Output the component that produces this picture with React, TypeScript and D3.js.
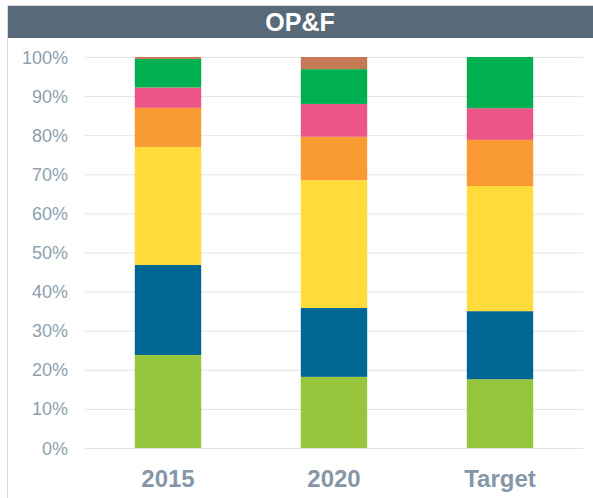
import { useEffect, useRef } from 'react';
import * as d3 from 'd3';

const categories = ['2015', '2020', 'Target'];
const segmentKeys = ['s1', 's2', 's3', 's4', 's5', 's6', 's7'];
const segmentColors = ['#97c53c', '#006794', '#ffdc3c', '#f99a33', '#ec5687', '#00b050', '#c57a55'];

// percentage shares, bottom segment first
const values2015 = [23.8, 23.0, 30.2, 10.0, 5.2, 7.3, 0.5];
const values2020 = [18.2, 17.6, 32.7, 11.1, 8.4, 8.9, 3.1];
const valuesTarget = [17.6, 17.4, 32.0, 11.8, 8.1, 13.1, 0];

const yTicks = [0, 10, 20, 30, 40, 50, 60, 70, 80, 90, 100];
const title = 'OP&F';

export default function App() {
  const svgRef = useRef<SVGSVGElement>(null);
  const width = 593;
  const height = 498;

  useEffect(() => {
    if (!svgRef.current) return;
    const svg = d3.select(svgRef.current);
    svg.selectAll('*').remove();

    const margin = { top: 57, right: 10, bottom: 50, left: 85 };
    const plotBottom = 448;

    // frame
    svg.append('rect')
      .attr('x', 7.5).attr('y', 5.5)
      .attr('width', width - 7).attr('height', height)
      .attr('fill', '#fff')
      .attr('stroke', '#d9d9d9');

    // title bar
    svg.append('rect')
      .attr('x', 8).attr('y', 6)
      .attr('width', width - 8).attr('height', 32)
      .attr('fill', '#586a7a');
    svg.append('text')
      .attr('x', 300).attr('y', 31)
      .attr('text-anchor', 'middle')
      .attr('font-family', 'Liberation Sans, Arial, sans-serif')
      .attr('font-weight', 'bold')
      .attr('font-size', 25)
      .attr('fill', '#fff')
      .text(title);

    const x = d3.scaleBand<string>()
      .domain(categories)
      .range([margin.left, 583])
      .paddingInner(0.6)
      .paddingOuter(0.3);

    const y = d3.scaleLinear()
      .domain([0, 100])
      .range([plotBottom, margin.top]);

    // gridlines
    svg.append('g')
      .selectAll('line')
      .data(yTicks)
      .enter()
      .append('line')
      .attr('x1', margin.left).attr('x2', 583)
      .attr('y1', d => y(d) + 0.5).attr('y2', d => y(d) + 0.5)
      .attr('stroke', '#e4e4e4')
      .attr('stroke-width', 1);

    svg.append('g')
      .selectAll('text')
      .data(yTicks)
      .enter()
      .append('text')
      .attr('x', 68)
      .attr('y', d => y(d) + 6.5)
      .attr('text-anchor', 'end')
      .attr('font-family', 'Liberation Sans, Arial, sans-serif')
      .attr('font-size', 18)
      .attr('fill', '#8d9fb0')
      .text(d => `${d}%`);

    const rows = categories.map((c, i) => {
      const vals = [values2015, values2020, valuesTarget][i];
      const row: Record<string, any> = { category: c };
      segmentKeys.forEach((k, j) => { row[k] = vals[j]; });
      return row;
    });

    const stack = d3.stack<any>().keys(segmentKeys);
    const series = stack(rows);

    svg.append('g')
      .selectAll('g')
      .data(series)
      .enter()
      .append('g')
      .attr('fill', (_, i) => segmentColors[i])
      .selectAll('rect')
      .data(d => d)
      .enter()
      .append('rect')
      .attr('x', d => x(d.data.category)!)
      .attr('width', x.bandwidth())
      .attr('y', d => y(d[1]))
      .attr('height', d => Math.max(0, y(d[0]) - y(d[1])));

    svg.append('g')
      .selectAll('text')
      .data(categories)
      .enter()
      .append('text')
      .attr('x', d => x(d)! + x.bandwidth() / 2)
      .attr('y', 487)
      .attr('text-anchor', 'middle')
      .attr('font-family', 'Liberation Sans, Arial, sans-serif')
      .attr('font-weight', 'bold')
      .attr('font-size', 24)
      .attr('fill', '#8596a8')
      .text(d => d);
  }, []);

  return (
    <svg
      ref={svgRef}
      width={width}
      height={height}
      style={{ position: 'absolute', left: 0, top: 0, display: 'block' }}
    />
  );
}
